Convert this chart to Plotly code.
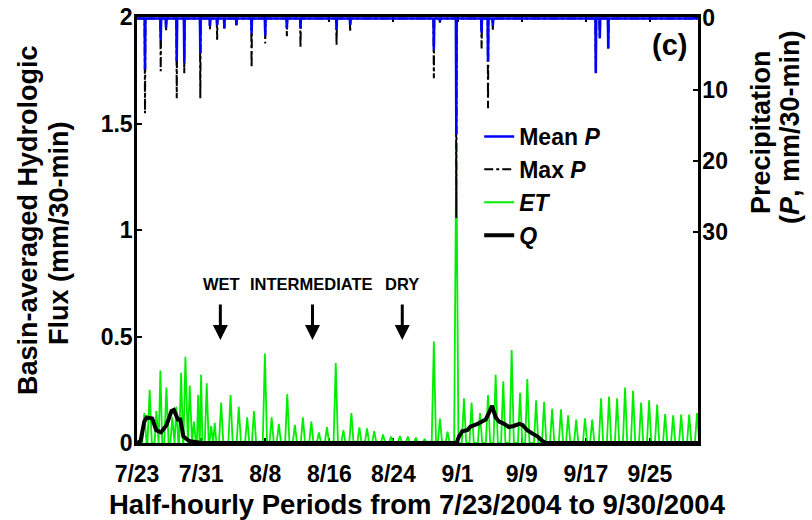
import plotly.graph_objects as go

# ---------------- data ----------------
tick_labels = ["7/23", "7/31", "8/8", "8/16", "8/24", "9/1", "9/9", "9/17", "9/25"]
periods_per_day = 48
n_days = 70
tick_every_days = 8

# Evapotranspiration: daily / event peaks (days since 7/23 00:00, mm/30-min)
et_peak_day = [0.92, 1.58, 2.42, 2.92, 3.67, 4.4, 4.92, 5.5, 6.04, 6.58, 7.1, 7.63, 8.0,
               8.7, 9.25, 9.7, 10.5, 11.67, 12.7, 13.75, 14.6, 15.96, 16.8, 17.7, 18.75,
               19.7, 20.7, 21.75, 22.7, 23.7, 24.8, 25.75, 26.75, 27.75, 28.7, 29.6, 30.7,
               31.7, 32.8, 33.8, 34.8, 35.9, 37.04, 37.8, 38.75, 39.84, 40.8, 41.75, 42.8,
               43.8, 44.75, 45.7, 46.75, 47.8, 48.7, 49.8, 50.8, 51.8, 52.9, 53.8, 54.8,
               55.9, 56.8, 57.9, 58.9, 59.9, 60.9, 61.9, 62.9, 63.9, 64.9, 65.9, 66.9,
               67.9, 68.9, 69.88]
et_peak_val = [0.14, 0.25, 0.15, 0.34, 0.26, 0.12, 0.17, 0.33, 0.405, 0.27, 0.10, 0.225, 0.32,
               0.28, 0.08, 0.095, 0.19, 0.225, 0.17, 0.12, 0.15, 0.42, 0.12, 0.09, 0.23,
               0.085, 0.12, 0.10, 0.05, 0.075, 0.375, 0.06, 0.14, 0.073, 0.069, 0.056, 0.04,
               0.03, 0.033, 0.03, 0.025, 0.019, 0.476, 0.115, 0.053, 1.40, 0.21, 0.19, 0.14,
               0.225, 0.32, 0.29, 0.437, 0.236, 0.30, 0.20, 0.194, 0.16, 0.158, 0.13, 0.11,
               0.116, 0.11, 0.21, 0.218, 0.21, 0.26, 0.245, 0.19, 0.20, 0.18, 0.136, 0.13,
               0.133, 0.133, 0.14]

# Streamflow Q (days, mm/30-min)
q_day = [0.0, 0.45, 0.9, 1.2, 1.9, 2.4, 3.0, 3.7, 4.3, 4.6, 5.1, 5.4, 5.8, 6.5, 8.0,
         39.875, 40.17, 40.58, 41.2, 41.6, 42.5, 43.1, 43.5, 43.9, 44.3, 44.75, 45.2,
         45.8, 46.4, 47.0, 47.7, 48.1, 48.7, 49.3, 50.0, 50.5, 51.0, 70.0]
q_val = [0.0, 0.01, 0.10, 0.12, 0.115, 0.06, 0.05, 0.085, 0.15, 0.155, 0.11, 0.11, 0.03, 0.01, 0.0,
         0.0, 0.03, 0.055, 0.06, 0.077, 0.09, 0.10, 0.11, 0.14, 0.175, 0.12, 0.10,
         0.09, 0.075, 0.08, 0.09, 0.085, 0.06, 0.045, 0.03, 0.012, 0.0, 0.0]

# Precipitation events (days, mm/30-min)
p_day = [1.0, 2.96, 3.63, 4.96, 5.9, 7.9, 9.1, 10.0, 10.9, 12.4, 14.3, 16.0, 18.7, 20.4,
         24.9, 26.6, 37.04, 37.8, 39.84, 43.0, 43.8, 44.4, 57.25, 57.75, 58.8]
p_mean = [7.2, 3.1, 1.3, 6.0, 6.3, 4.9, 1.1, 0.9, 1.4, 0.9, 2.1, 2.4, 1.4, 1.4,
          1.6, 0.9, 4.4, 0.4, 16.3, 2.0, 6.0, 1.0, 7.7, 2.8, 4.2]
p_max = [13.3, 7.4, 1.8, 11.2, 7.7, 11.2, 1.5, 3.0, 1.4, 1.2, 6.9, 3.5, 2.5, 4.1,
         3.7, 1.9, 8.4, 0.6, 28.0, 4.2, 12.6, 1.6, 7.7, 2.8, 4.2]

# ---------------- helpers ----------------
n_periods = n_days * periods_per_day


def spike_series(days, vals, half_width):
    xs, ys = [0], [0]
    for i, (d, v) in enumerate(zip(days, vals)):
        left = d - days[i - 1] if i > 0 else half_width * 3
        right = days[i + 1] - d if i < len(days) - 1 else half_width * 3
        hw = min(half_width, 0.45 * left, 0.45 * right)
        xs += [(d - hw) * periods_per_day, d * periods_per_day, (d + hw) * periods_per_day]
        ys += [0, v, 0]
    xs.append(n_periods)
    ys.append(0)
    return xs, ys


et_x, et_y = spike_series(et_peak_day, et_peak_val, 0.27)
pm_x, pm_y = spike_series(p_day, p_mean, 0.05)
px_x, px_y = spike_series(p_day, p_max, 0.05)
q_x = [d * periods_per_day for d in q_day]

FONT = "Liberation Sans, Arial, Helvetica, sans-serif"

fig = go.Figure()
fig.add_trace(go.Scatter(x=et_x, y=et_y, mode="lines", name="<i>ET</i>",
                         line=dict(color="#00ee00", width=1.8), legendrank=3))
fig.add_trace(go.Scatter(x=q_x, y=q_val, mode="lines", name="<i>Q</i>",
                         line=dict(color="black", width=4), legendrank=4))
fig.add_trace(go.Scatter(x=px_x, y=px_y, mode="lines", name="Max <i>P</i>", yaxis="y2",
                         line=dict(color="black", width=2, dash="dashdot"), legendrank=2))
fig.add_trace(go.Scatter(x=pm_x, y=pm_y, mode="lines", name="Mean <i>P</i>", yaxis="y2",
                         line=dict(color="#0000ff", width=2.5), legendrank=1))

axis_common = dict(showline=True, linecolor="black", linewidth=2.5, ticks="inside",
                   ticklen=5, tickwidth=2, tickcolor="black", showgrid=False,
                   zeroline=False, layer="below traces", automargin=False,
                   tickfont=dict(family=FONT, size=23, color="black", weight="bold"))

tick_vals = [i * tick_every_days * periods_per_day for i in range(len(tick_labels))]

fig.update_layout(
    template="none",
    width=812, height=520,
    margin=dict(l=137, r=114, t=17, b=77, autoexpand=False),
    paper_bgcolor="white", plot_bgcolor="white",
    font=dict(family=FONT, color="black", weight="bold"),
    showlegend=True,
    legend=dict(x=0.61, y=0.77, xanchor="left", yanchor="top",
                bgcolor="rgba(0,0,0,0)", borderwidth=0, tracegroupgap=0,
                font=dict(family=FONT, size=23, color="black", weight="bold")),
    xaxis=dict(range=[0, n_periods], tickmode="array", tickvals=tick_vals,
               ticktext=tick_labels, mirror="ticks", ticklabelstandoff=9, **axis_common),
    yaxis=dict(range=[0, 2], tickmode="array", tickvals=[0, 0.5, 1, 1.5, 2],
               ticktext=["0", "0.5", "1", "1.5", "2"], ticklabelstandoff=-3, **axis_common),
    yaxis2=dict(overlaying="y", side="right", range=[59.55, -0.2], tickmode="array",
                tickvals=[0, 10, 20, 30], ticktext=["0", "10", "20", "30"],
                ticklabelstandoff=-3, **axis_common),
)

W_PLOT, H_PLOT, L, T = 812 - 137 - 114, 520 - 17 - 77, 137, 17


def px_x_paper(x):
    return (x - L) / W_PLOT


def px_y_paper(y):
    return 1 - (y - T) / H_PLOT


ann = []
title_font = dict(family=FONT, size=27, color="black", weight="bold")
# axis titles (each line separately for tight line spacing)
ann.append(dict(text="Half-hourly Periods from 7/23/2004 to 9/30/2004", xref="paper", yref="paper",
                x=px_x_paper(417), y=px_y_paper(504), xanchor="center", yanchor="middle",
                showarrow=False,
                font=dict(family=FONT, size=27.5, color="black", weight="bold")))
for text, xc, yc in [("Basin-averaged Hydrologic", 28, 220), ("Flux (mm/30-min)", 59, 233),
                     ("Precipitation", 761, 132), ("(<i>P</i>, mm/30-min)", 790, 127)]:
    ann.append(dict(text=text, xref="paper", yref="paper", x=px_x_paper(xc), y=px_y_paper(yc),
                    xanchor="center", yanchor="middle", showarrow=False, textangle=-90,
                    font=title_font))
ann.append(dict(text="(c)", xref="paper", yref="paper", x=px_x_paper(669), y=px_y_paper(45),
                xanchor="center", yanchor="middle", showarrow=False,
                font=dict(family=FONT, size=29, color="black", weight="bold")))

# period labels with arrows
period_names = ["WET", "INTERMEDIATE", "DRY"]
period_label_day = [10.6, 21.75, 33.1]
period_arrow_day = [10.4, 21.9, 33.1]
for name, dl, da in zip(period_names, period_label_day, period_arrow_day):
    ann.append(dict(text=name, x=dl * periods_per_day, y=0.7465, xref="x", yref="y",
                    showarrow=False, xanchor="center", yanchor="middle",
                    font=dict(family=FONT, size=16.5, color="black", weight="bold")))
    ann.append(dict(text="", x=da * periods_per_day, y=0.4836, xref="x", yref="y",
                    showarrow=True, ax=0, ay=-37, arrowhead=2, arrowsize=1,
                    arrowwidth=3, arrowcolor="black"))

fig.update_layout(annotations=ann)
fig.write_html("out.html", config={"displayModeBar": False},
               post_script="document.body.style.margin='0';document.body.style.overflow='hidden';")
